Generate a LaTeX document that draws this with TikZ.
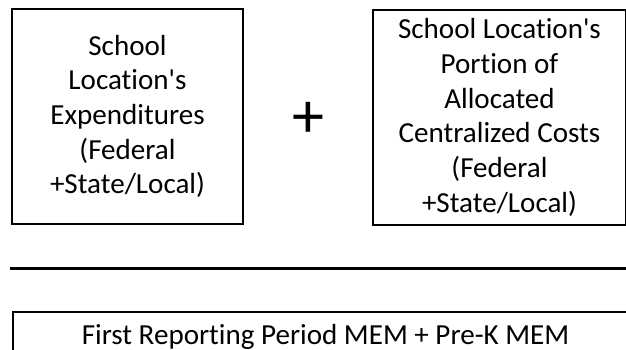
\documentclass[tikz,border=0pt]{standalone}
\usepackage{fontspec}
\setmainfont{Carlito}[Ligatures=NoCommon]

\begin{document}
\begin{tikzpicture}[x=0.75pt,y=-0.75pt,
    costbox/.style={draw,line width=1.5pt,align=center,inner sep=0pt,
      minimum height=161.25pt,font=\fontsize{21.8}{26}\selectfont}]
  \useasboundingbox (0,0) rectangle (626,350);
  \clip (0,0) rectangle (626,350);
  \node[costbox,minimum width=173.25pt] (expend) at (127.5,116.5)
    {School\\Location\textquotesingle s\\Expenditures\\(Federal\\+State/Local)};
  \node[costbox,minimum width=189.75pt] (central) at (499.5,117.5)
    {School Location\textquotesingle s\\Portion of\\Allocated\\Centralized Costs\\(Federal\\+State/Local)};
  \node[font=\fontsize{48}{48}\selectfont,inner sep=0pt] (plus) at (308,120) {+};
  \coordinate (barl) at (10,268.5);
  \coordinate (barr) at (640,268.5);
  \draw[line width=2.25pt] (barl) -- (barr);
  \node[draw,line width=1.5pt,anchor=north west,inner sep=0pt,
    minimum width=468.75pt,text height=24pt,text depth=60pt,
    font=\fontsize{21.8}{26}\selectfont] (mem) at (12,311)
    {First Reporting Period MEM + Pre-K MEM};
\end{tikzpicture}
\end{document}
